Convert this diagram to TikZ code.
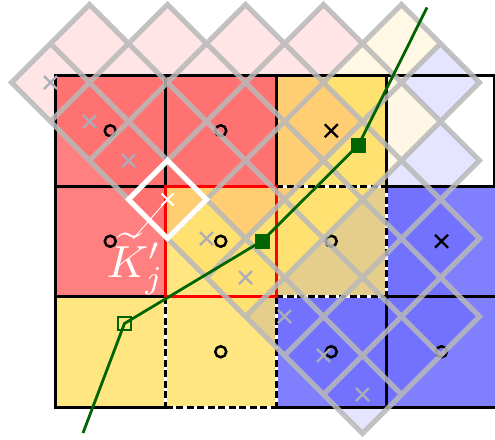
\documentclass[tikz,border=0pt]{standalone}
\usepackage{amsmath}
\definecolor{cred}{RGB}{255,128,128}
\definecolor{cyel}{RGB}{255,230,128}
\definecolor{cblu}{RGB}{128,128,255}
\definecolor{ovred}{RGB}{255,0,0}
\definecolor{ovyel}{RGB}{255,185,0}
\definecolor{ovblu}{RGB}{0,0,255}
\definecolor{lgray}{RGB}{185,185,185}
\definecolor{xgray}{RGB}{172,172,184}
\definecolor{dgreen}{RGB}{0,100,0}
\tikzset{
  solidb/.style={line width=3pt, draw=black, line cap=rect},
  redb/.style={line width=3pt, draw=red},
  dashb/.style={line width=3pt, draw=black, dash pattern=on 7pt off 3.5pt},
  dashbg/.style={line width=3pt, draw=white},
  grayline/.style={draw=lgray, draw opacity=0.85, line width=5.2pt, line join=miter},
  omk/.style={draw=black, line width=2.5pt},
  xmk/.style={draw=black, line width=2.4pt},
  gxmk/.style={draw=xgray, line width=2.2pt},
  sqopen/.style={draw=dgreen, line width=2.2pt, minimum size=13pt, inner sep=0pt, fill=none},
  sqfill/.style={fill=dgreen, draw=none, minimum size=15pt, inner sep=0pt},
  greenline/.style={draw=dgreen, line width=2.8pt},
}
\begin{document}
\begin{tikzpicture}[x=1pt,y=-1pt]
\useasboundingbox (0,0) rectangle (495,439);
% base cells
\fill[cred] (55,75.5) rectangle (165.5,186);
\fill[cred] (165.5,75.5) rectangle (276,186);
\fill[cyel] (276,75.5) rectangle (386.5,186);
\fill[white] (386.5,75.5) rectangle (497,186);
\fill[cred] (55,186) rectangle (165.5,296.5);
\fill[cyel] (165.5,186) rectangle (276,296.5);
\fill[cyel] (276,186) rectangle (386.5,296.5);
\fill[cblu] (386.5,186) rectangle (497,296.5);
\fill[cyel] (55,296.5) rectangle (165.5,407);
\fill[cyel] (165.5,296.5) rectangle (276,407);
\fill[cblu] (276,296.5) rectangle (386.5,407);
\fill[cblu] (386.5,296.5) rectangle (497,407);
% translucent diamond fills
\foreach \a/\b in {-1/1,0/0,0/2,1/1,2/0,1/3,2/2,3/1,4/0,2/4,3/3,4/2,5/1,6/0,4/4,5/3,6/2}
  \fill[ovred, fill opacity=0.1] ({89.5+39*\a-39},{43.5+39*\b}) -- ++(39,-39) -- ++(39,39) -- ++(-39,39) -- cycle;
\foreach \a/\b in {3/5,7/1,8/0,4/6,5/5,6/4,7/3,8/2}
  \fill[ovyel, fill opacity=0.1] ({89.5+39*\a-39},{43.5+39*\b}) -- ++(39,-39) -- ++(39,39) -- ++(-39,39) -- cycle;
\foreach \a/\b in {9/1,5/7,6/6,7/5,8/4,9/3,6/8,7/7,8/6,9/5,7/9,8/8,9/7}
  \fill[ovblu, fill opacity=0.1] ({89.5+39*\a-39},{43.5+39*\b}) -- ++(39,-39) -- ++(39,39) -- ++(-39,39) -- cycle;
% grid borders
\draw[solidb] (55,75.5) -- (494,75.5);
\draw[solidb] (55,75.5) -- (55,407);
\draw[solidb] (494,75.5) -- (494,186);
\draw[solidb] (55,407) -- (165.5,407);
\draw[solidb] (276,407) -- (497,407);
\draw[solidb] (55,186) -- (165.5,186);
\draw[solidb] (386.5,186) -- (497,186);
\draw[solidb] (55,296.5) -- (165.5,296.5);
\draw[solidb] (386.5,296.5) -- (497,296.5);
\draw[solidb] (165.5,75.5) -- (165.5,186);
\draw[solidb] (276,75.5) -- (276,186);
\draw[solidb] (386.5,75.5) -- (386.5,186);
\draw[solidb] (386.5,296.5) -- (386.5,407);
\foreach \p/\q in {{276,186}/{386.5,186},{386.5,186}/{386.5,296.5},{276,296.5}/{386.5,296.5},{276,296.5}/{276,407},{165.5,296.5}/{165.5,407},{165.5,407}/{276,407}}{
  \draw[dashbg] (\p) -- (\q);
  \draw[dashb] (\p) -- (\q);
}
\draw[redb] (165.5,186) rectangle (276,296.5);
% markers
\foreach \x/\y in {110.25/130.75,220.75/130.75,110.25/241.25,220.75/241.25,331.25/241.25,220.75/351.75,331.25/351.75,441.5/351.75}
  \draw[omk] (\x,\y) circle (5.5);
\foreach \x/\y in {331.25/130.75,441.5/241.25}
  \draw[xmk] (\x-6.5,\y-6.5) -- (\x+6.5,\y+6.5) (\x-6.5,\y+6.5) -- (\x+6.5,\y-6.5);
\foreach \a/\b in {-1/1,0/2,1/3,3/5,4/6,5/7,6/8,7/9}
  \draw[gxmk] ({89.5+39*\a-6.5},{43.5+39*\b-6.5}) -- ++(13,13) ++(-13,0) -- ++(13,-13);
% gray diamond outlines
\draw[grayline] \foreach \a/\b in {-1/1,0/0,0/2,1/1,2/0,1/3,2/2,3/1,4/0,3/3,4/2,5/1,6/0,4/4,5/3,6/2,3/5,7/1,8/0,4/6,5/5,6/4,7/3,8/2,9/1,5/7,6/6,7/5,8/4,9/3,6/8,7/7,8/6,9/5,7/9,8/8,9/7} { ({89.5+39*\a-39},{43.5+39*\b}) -- ++(39,-39) -- ++(39,39) -- ++(-39,39) -- cycle };
% white diamond K_j'
\coordinate (kc) at (167.5,199.5);
\draw[white, line width=5pt, line join=miter] (128.5,199.5) -- (167.5,160.5) -- (206.5,199.5) -- (167.5,238.5) -- cycle;
\draw[white, line width=1.8pt] (161.5,193.5) -- (173.5,205.5) (161.5,205.5) -- (173.5,193.5);
\node[text=white, scale=4.5, anchor=base west, inner sep=0pt] (lbl) at (106,277) {$\widetilde{K}'_j$};
\coordinate (lead) at (133,239);
\draw[white, line width=0.9pt] (lead) -- (kc);
% green interface
\coordinate (e0) at (83,433);
\coordinate (e1) at (427,7.5);
\node[sqopen] (p1) at (124.5,323.5) {};
\node[sqfill] (p2) at (262,241) {};
\node[sqfill] (p3) at (358.5,145) {};
\draw[greenline] (e0) -- (p1.center) -- (p2.center) -- (p3.center) -- (e1);
\node[sqopen] at (p1) {};
\node[sqfill] at (p2) {};
\node[sqfill] at (p3) {};
\end{tikzpicture}
\end{document}
